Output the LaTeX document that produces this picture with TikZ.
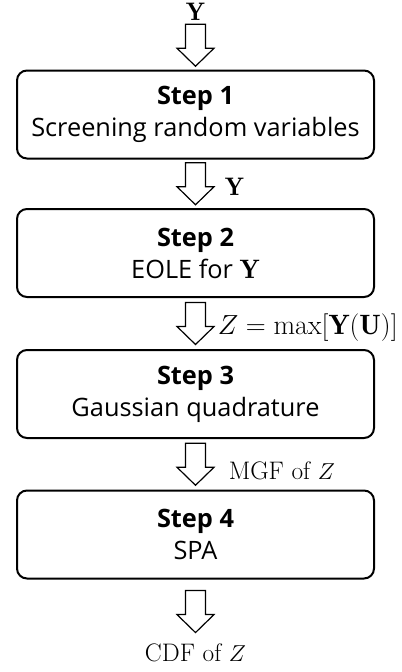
\documentclass[tikz,border=0pt]{standalone}
\usepackage{fontspec}
\newfontfamily\boxfont{Open Sans}
\usetikzlibrary{calc}
\begin{document}
\begin{tikzpicture}[x=0.75pt,y=-0.75pt,
  stepbox/.style={draw=black,line width=1.5pt,rounded corners=7.5pt,
    minimum width=357*0.75pt,minimum height=88*0.75pt,inner sep=0pt,
    align=center,font=\boxfont\fontsize{19}{24}\selectfont},
  lbl/.style={inner sep=0pt,font=\fontsize{19}{20}\selectfont},
  barrow/.pic={\draw[line width=0.9pt,fill=white] (-10,-21) -- (10,-21) -- (10,3) -- (18.5,3) -- (0,21) -- (-18.5,3) -- (-10,3) -- cycle;}
]
\useasboundingbox (0,0) rectangle (402,672);
\node[lbl,anchor=center] (in) at (195.5,12) {$\mathbf{Y}$};
\node[stepbox] (b1) at (195.5,114.5) {\textbf{Step 1}\\Screening random variables};
\node[stepbox] (b2) at (195.5,253) {\textbf{Step 2}\\EOLE for {\fontsize{20}{20}\selectfont$\mathbf{Y}$}};
\node[stepbox] (b3) at (195.5,394) {\textbf{Step 3}\\Gaussian quadrature};
\node[stepbox] (b4) at (195.5,534.5) {\textbf{Step 4}\\SPA};
\node[lbl] (out) at (195.5,653) {CDF of $Z$};
\path ($(in.south)!0.5!(b1.north)$) pic {barrow};
\path ($(b1.south)!0.5!(b2.north)$) coordinate (m2) pic {barrow};
\path ($(b2.south)!0.5!(b3.north)$) coordinate (m3) pic {barrow};
\path ($(b3.south)!0.5!(b4.north)$) coordinate (m4) pic {barrow};
\path ($(b4.south)!0.5!(out.north)$) pic {barrow};
\node[lbl,anchor=west] (l2) at ($(m2)+(29,3)$) {$\mathbf{Y}$};
\node[lbl,anchor=west,font=\fontsize{21}{22}\selectfont] (l3) at ($(m3)+(22,4)$) {$Z=\max[\mathbf{Y}(\mathbf{U})]$};
\node[lbl,anchor=west] (l4) at ($(m4)+(33,7)$) {MGF of $Z$};
\end{tikzpicture}
\end{document}
